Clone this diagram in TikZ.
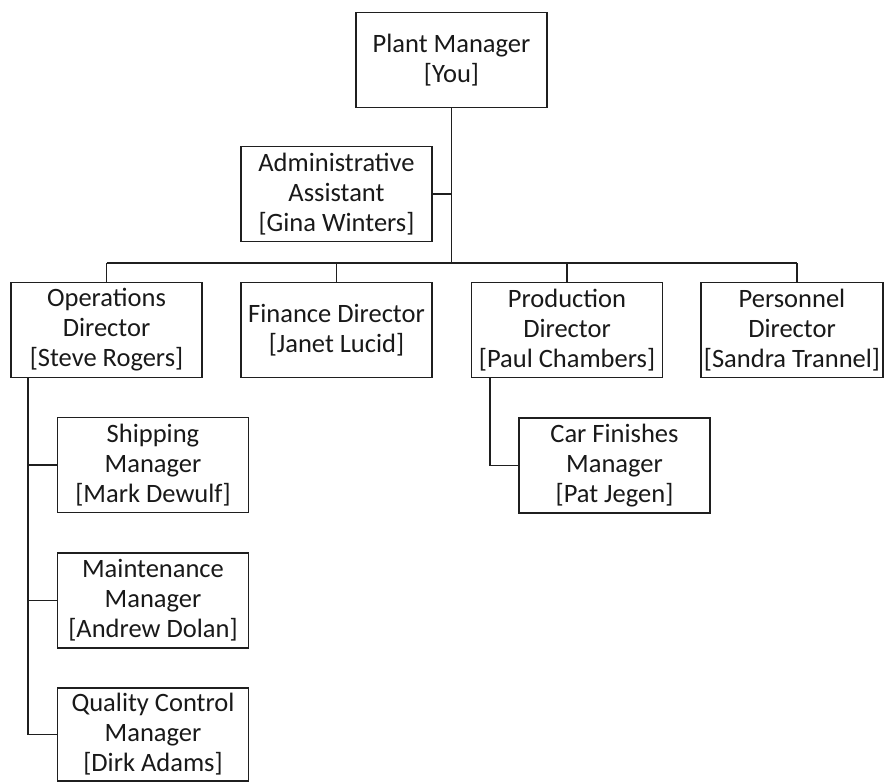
\documentclass[tikz,border=0pt]{standalone}
\usepackage{fontspec}
\setmainfont{Carlito}
\begin{document}
\begin{tikzpicture}[x=1pt,y=-1pt,
  box/.style={draw=black!88, line width=1.6pt, fill=white, rectangle, inner sep=0pt,
    minimum width=191pt, minimum height=95pt, align=center, text=black!90,
    font=\fontsize{26.5}{30}\selectfont},
  link/.style={draw=black!88, line width=1.6pt}]
\useasboundingbox (0,0) rectangle (884,782);
\node[box] (plant) at (451.5,60) {Plant Manager\\{[You]}};
\node[box] (admin) at (336.5,194) {Administrative\\Assistant\\{[Gina Winters]}};
\node[box] (ops) at (106.5,330) {Operations\\Director\\{[Steve Rogers]}};
\node[box] (fin) at (336.5,330) {Finance Director\\{[Janet Lucid]}};
\node[box] (prod) at (567,330) {Production\\Director\\{[Paul Chambers]}};
\node[box, minimum width=182pt] (pers) at (792,330) {Personnel\\Director\\{[Sandra Trannel]}};
\node[box] (ship) at (153,465) {Shipping\\Manager\\{[Mark Dewulf]}};
\node[box] (maint) at (153,600.5) {Maintenance\\Manager\\{[Andrew Dolan]}};
\node[box, minimum height=93pt] (qual) at (153,734.5) {Quality Control\\Manager\\{[Dirk Adams]}};
\node[box] (car) at (614.5,465.5) {Car Finishes\\Manager\\{[Pat Jegen]}};
\coordinate (busL) at (106.5,263);
\coordinate (busR) at (797,263);
\coordinate (od) at ([xshift=18pt]ops.south west);
\coordinate (pd) at ([xshift=19pt]prod.south west);
\draw[link] (plant.south) -- (plant.south |- busL);
\draw[link] (admin.east) -- (admin.east -| plant.south);
\draw[link] (busL) -- (busR);
\draw[link] (ops.north) -- (busL);
\draw[link] (fin.north) -- (fin.north |- busL);
\draw[link] (prod.north) -- (prod.north |- busL);
\draw[link] (busR) -- (busR |- pers.north);
\draw[link] (od) |- (qual.west);
\draw[link] (ship.west) -- (ship.west -| od);
\draw[link] (maint.west) -- (maint.west -| od);
\draw[link] (pd) |- (car.west);
\end{tikzpicture}
\end{document}
